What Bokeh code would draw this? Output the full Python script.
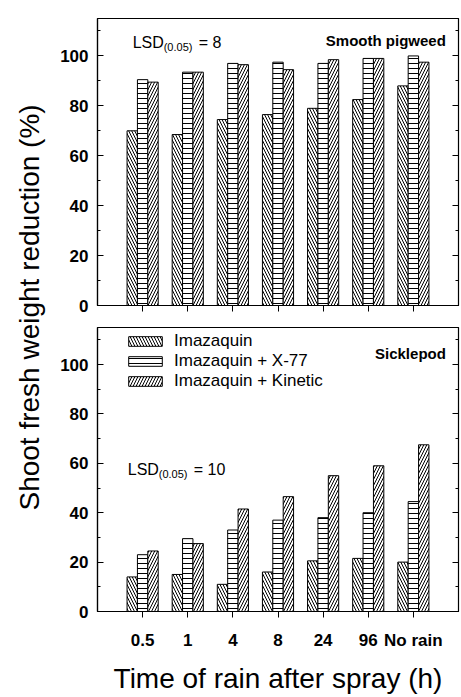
import math
from bokeh.plotting import figure
from bokeh.layouts import row, column
from bokeh.models import (Label, Legend, LegendItem, LinearAxis, FixedTicker,
                          Range1d)
from bokeh.embed import file_html
from bokeh.resources import INLINE

# ---------------- data ----------------
categories = ["0.5", "1", "4", "8", "24", "96", "No rain"]
treatments = ["Imazaquin", "Imazaquin + X-77", "Imazaquin + Kinetic"]

pigweed_imazaquin = [70, 68.5, 74.5, 76.5, 79, 82.5, 88]
pigweed_x77 = [90.5, 93.5, 97, 97.5, 97, 99, 100]
pigweed_kinetic = [89.5, 93.5, 96.5, 94.5, 98.5, 99, 97.5]

sicklepod_imazaquin = [14, 15, 11, 16, 20.5, 21.5, 20]
sicklepod_x77 = [23, 29.5, 33, 37, 38, 40, 44.5]
sicklepod_kinetic = [24.5, 27.5, 41.5, 46.5, 55, 59, 67.5]

y_ticks = [0, 20, 40, 60, 80, 100]
y_minor_ticks = [10, 30, 50, 70, 90, 110]

panel_names = ["Smooth pigweed", "Sicklepod"]
lsd_values = ["8", "10"]

# ---------------- style ----------------
FONT = "Liberation Sans"
hatches = ["\\", "-", "/"]
hatch_scales = [6, 5, 6]
offsets = [-0.23, 0.0, 0.23]
bar_w = 0.23
xs = list(range(len(categories)))


def style_axes(p, show_x_labels):
    p.grid.visible = False
    p.outline_line_color = "black"
    p.outline_line_width = 1.2

    yax = p.yaxis[0]
    yax.ticker = FixedTicker(ticks=y_ticks, minor_ticks=y_minor_ticks)
    yax.major_tick_in = 6
    yax.major_tick_out = 0
    yax.minor_tick_in = 3
    yax.minor_tick_out = 0
    yax.major_label_standoff = 9
    yax.major_label_text_font = FONT
    yax.major_label_text_font_size = "17px"
    yax.major_label_text_font_style = "bold"
    yax.major_label_text_color = "black"
    yax.axis_line_color = "black"
    yax.axis_line_width = 1.2

    rax = LinearAxis(ticker=FixedTicker(ticks=y_ticks, minor_ticks=y_minor_ticks))
    rax.major_tick_in = 6
    rax.major_tick_out = 0
    rax.minor_tick_in = 3
    rax.minor_tick_out = 0
    rax.major_label_standoff = 0
    rax.major_label_text_font_size = "0px"
    rax.major_label_overrides = {t: "" for t in y_ticks}
    rax.axis_line_color = "black"
    p.add_layout(rax, "right")

    xax = p.xaxis[0]
    xax.ticker = FixedTicker(ticks=xs)
    xax.major_tick_in = 0
    xax.major_tick_out = 6
    xax.minor_tick_line_color = None
    xax.axis_line_color = "black"
    xax.axis_line_width = 1.2
    if show_x_labels:
        xax.major_label_overrides = {i: c for i, c in enumerate(categories)}
        xax.major_label_text_font = FONT
        xax.major_label_text_font_size = "17px"
        xax.major_label_text_font_style = "bold"
        xax.major_label_text_color = "black"
        xax.major_label_standoff = 13
        xax.axis_label = "Time of rain after spray (h)"
        xax.axis_label_text_font = FONT
        xax.axis_label_text_font_size = "28px"
        xax.axis_label_text_font_style = "normal"
        xax.axis_label_text_color = "black"
        xax.axis_label_standoff = 10
    else:
        xax.major_label_text_font_size = "0px"
        xax.major_label_overrides = {i: "" for i in xs}
        xax.major_label_standoff = 0


def add_bars(p, series):
    rs = []
    for vals, h, hs, off in zip(series, hatches, hatch_scales, offsets):
        r = p.vbar(x=[x + off for x in xs], top=vals, bottom=0, width=bar_w,
                   fill_color="white", line_color="black", line_width=1,
                   hatch_pattern=h, hatch_color="black", hatch_scale=hs,
                   hatch_weight=1)
        rs.append(r)
    return rs


def add_lsd(p, x, y, val):
    p.add_layout(Label(x=x, y=y, text="LSD", text_font=FONT, text_color="black",
                       text_font_size="16px", text_baseline="alphabetic"))
    p.add_layout(Label(x=x, y=y, x_offset=31, y_offset=-4, text="(0.05)",
                       text_font=FONT, text_font_size="11px", text_color="black",
                       text_baseline="alphabetic"))
    p.add_layout(Label(x=x, y=y, x_offset=66, text="= " + val, text_font=FONT,
                       text_color="black",
                       text_font_size="16px", text_baseline="alphabetic"))


# ---------------- top panel ----------------
top = figure(width=408, height=325, x_range=Range1d(-1, 7),
             y_range=Range1d(0, 115), output_backend="svg",
             toolbar_location=None, min_border_left=45, min_border_right=2,
             min_border_top=18, min_border_bottom=20)
add_bars(top, [pigweed_imazaquin, pigweed_x77, pigweed_kinetic])
style_axes(top, False)
top.add_layout(Label(x=6.72, y=106.3, text=panel_names[0], text_font=FONT,
                     text_font_size="15px", text_font_style="bold",
                     text_color="black",
                     text_align="right", text_baseline="alphabetic"))
add_lsd(top, -0.22, 105.3, lsd_values[0])

# ---------------- bottom panel ----------------
bot = figure(width=408, height=371, x_range=Range1d(-1, 7),
             y_range=Range1d(0, 115), output_backend="svg",
             toolbar_location=None, min_border_left=45, min_border_right=2,
             min_border_top=2, min_border_bottom=83)
rs = add_bars(bot, [sicklepod_imazaquin, sicklepod_x77, sicklepod_kinetic])
style_axes(bot, True)
bot.add_layout(Label(x=6.72, y=104.3, text=panel_names[1], text_font=FONT,
                     text_font_size="15px", text_font_style="bold",
                     text_color="black",
                     text_align="right", text_baseline="alphabetic"))
add_lsd(bot, -0.33, 57.5, lsd_values[1])

legend = Legend(items=[LegendItem(label=t, renderers=[r]) for t, r in zip(treatments, rs)],
                location=(27, 220))
legend.border_line_color = None
legend.background_fill_alpha = 0
legend.glyph_width = 42
legend.glyph_height = 12
legend.label_height = 20
legend.label_text_font = FONT
legend.label_text_font_size = "17px"
legend.label_text_color = "black"
legend.label_standoff = 8
legend.spacing = 0
legend.padding = 0
legend.margin = 0
bot.add_layout(legend)

# ---------------- y title ----------------
yt = figure(width=52, height=696, x_range=Range1d(0, 1), y_range=Range1d(0, 1),
            x_axis_type=None, y_axis_type=None, output_backend="svg",
            toolbar_location=None, min_border=0)
yt.grid.visible = False
yt.outline_line_color = None
yt.add_layout(Label(x=0.56, y=0.559, text="Shoot fresh weight reduction (%)",
                    angle=math.pi / 2, text_align="center", text_baseline="middle",
                    text_font=FONT, text_font_size="28px", text_color="black"))

layout = row(yt, column(top, bot))

open("out.html", "w").write(file_html(layout, INLINE))
